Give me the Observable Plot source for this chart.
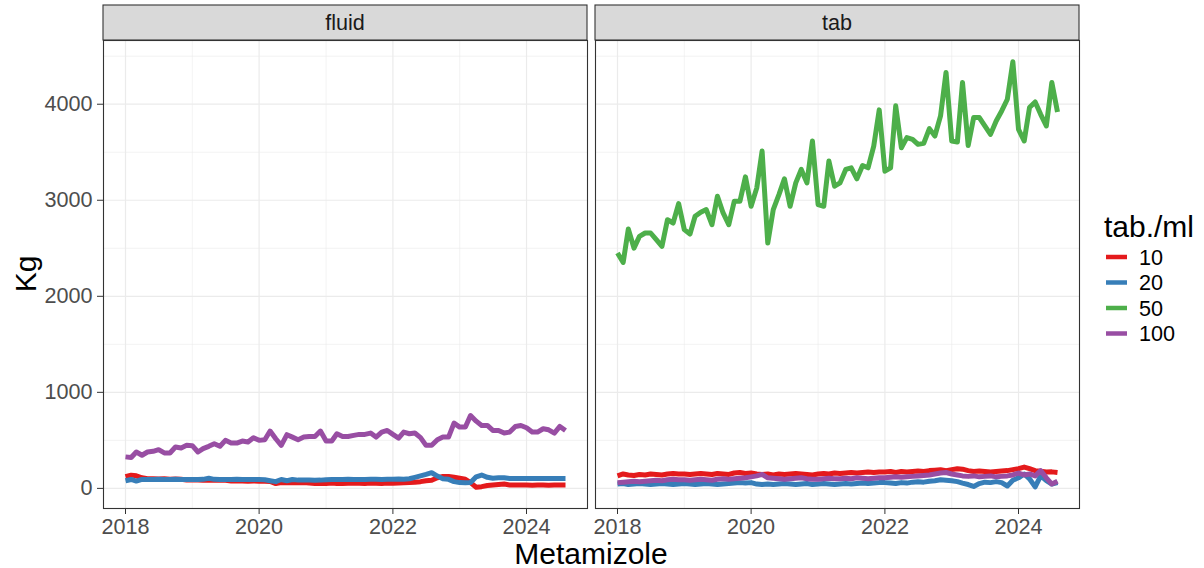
<!DOCTYPE html>
<html>
<head>
<meta charset="utf-8">
<script src="https://cdn.jsdelivr.net/npm/d3@7"></script>
<script src="https://cdn.jsdelivr.net/npm/@observablehq/plot@0.6"></script>
<style>
  html, body { margin: 0; padding: 0; background: #ffffff; }
  body { font-family: "Liberation Sans", Arial, sans-serif; }
</style>
</head>
<body>
<div id="chart"></div>
<script>
// ---------- data ----------
const panels = ["fluid", "tab"];
const seriesNames = ["10", "20", "50", "100"];
const seriesColors = ["#E41A1C", "#377EB8", "#4DAF4A", "#984EA3"];
const firstMonth = "2018-01-01";
const lastMonth = "2024-08-01";
const xTickYears = [2018, 2020, 2022, 2024];
const xMinorYears = [2019, 2021, 2023];
const yTicks = [0, 1000, 2000, 3000, 4000];
const yMinorTicks = [500, 1500, 2500, 3500, 4500];
const xTitle = "Metamizole";
const yTitle = "Kg";
const legendTitle = "tab./ml";

const fluid10 = [121,138,131,110,100,100,98,100,96,98,95,88,
  86,86,84,86,85,86,84,78,76,76,74,76,
  75,74,72,50,60,58,62,58,60,55,52,54,
  52,55,52,50,53,55,54,52,55,53,52,56,
  54,55,58,62,65,70,80,85,110,125,125,115,
  105,95,60,12,18,30,35,40,45,36,35,34,
  34,33,34,34,33,34,34,34];
const fluid20 = [79,93,76,93,93,92,94,93,93,94,92,93,
  93,92,94,105,94,93,92,93,94,93,92,93,
  92,90,80,70,93,80,92,86,88,86,85,86,
  90,92,93,92,94,93,92,93,94,95,93,94,
  95,97,95,100,115,130,145,163,128,100,94,70,
  60,58,60,120,139,115,105,110,110,104,104,104,
  104,104,104,104,104,104,104,104];
const fluid100 = [328,321,379,345,379,386,403,369,369,431,421,448,
  445,379,414,438,465,438,500,472,472,493,483,528,
  500,507,597,517,448,559,534,507,534,541,541,597,
  493,493,569,541,541,552,562,562,576,534,586,603,
  562,524,586,569,576,528,448,448,507,534,534,679,
  638,638,759,700,655,655,603,603,576,586,645,655,
  631,586,586,621,610,576,645,603];

const tab10 = [130,150,140,135,145,140,150,145,140,150,155,150,
  150,145,150,155,150,145,155,150,145,160,165,155,
  160,150,145,150,140,150,145,150,155,150,145,140,
  150,155,150,160,155,160,165,160,165,170,165,170,
  170,175,165,175,170,175,180,175,185,190,195,185,
  195,205,200,185,175,180,175,170,175,180,185,195,
  205,222,205,185,178,170,172,165];
const tab20 = [45,50,40,45,50,45,40,45,50,45,40,45,
  50,45,40,45,50,45,40,45,50,55,60,55,
  60,45,40,45,40,45,50,45,40,45,50,40,
  45,50,45,40,45,50,45,50,55,50,55,60,
  60,55,50,60,55,65,70,65,75,80,90,85,
  80,70,55,40,20,50,65,60,70,60,25,85,
  110,150,100,15,130,80,45,60];
const tab50 = [2450,2352,2700,2502,2624,2659,2659,2589,2520,2798,2763,2965,
  2694,2648,2833,2875,2903,2746,3042,2868,2746,2990,2990,3244,
  2937,3129,3512,2554,2903,3059,3223,2937,3181,3321,3181,3617,
  2955,2937,3408,3146,3181,3321,3338,3223,3362,3338,3564,3941,
  3303,3338,3983,3547,3652,3634,3582,3592,3746,3669,3878,4331,
  3617,3606,4226,3571,3861,3861,3774,3686,3826,3930,4052,4442,
  3739,3617,3965,4024,3895,3774,4226,3920];
const tab100 = [60,65,70,75,70,75,80,85,80,90,95,90,
  90,85,90,95,90,85,95,100,95,100,105,110,
  120,130,145,110,105,100,95,100,105,110,100,95,
  95,100,105,100,100,105,100,110,105,100,105,110,
  110,115,120,115,120,125,130,135,140,150,160,165,
  150,140,130,125,130,120,125,130,120,125,130,140,
  160,140,150,130,185,110,45,75];

// ---------- build long table ----------
const months = d3.utcMonth.range(new Date(firstMonth), d3.utcMonth.offset(new Date(lastMonth), 1));
const seriesTable = [
  {panel: "fluid", series: "10", values: fluid10},
  {panel: "fluid", series: "20", values: fluid20},
  {panel: "fluid", series: "100", values: fluid100},
  {panel: "tab", series: "10", values: tab10},
  {panel: "tab", series: "20", values: tab20},
  {panel: "tab", series: "50", values: tab50},
  {panel: "tab", series: "100", values: tab100}
];
const rows = [];
for (const s of seriesTable) {
  s.values.forEach((v, i) => rows.push({panel: s.panel, series: s.series, date: months[i], kg: v}));
}

// ggplot-like 5% expansion
const xExt = d3.extent(rows, d => +d.date);
const xPad = (xExt[1] - xExt[0]) * 0.05;
const yExt = d3.extent(rows, d => d.kg);
const yPad = (yExt[1] - yExt[0]) * 0.05;

const yearDate = y => new Date(Date.UTC(y, 0, 1));
const gridColor = "#EBEBEB";
const textGrey = "#4D4D4D";
const fontFamily = "'Liberation Sans', Arial, sans-serif";

const chart = Plot.plot({
  width: 1204,
  height: 568,
  marginLeft: 103,
  marginRight: 124,
  marginTop: 40,
  marginBottom: 60,
  style: {fontFamily, background: "#ffffff", overflow: "visible"},
  fx: {domain: panels, paddingInner: 8 / 493, paddingOuter: 0, axis: null, label: null},
  x: {type: "utc", domain: [new Date(xExt[0] - xPad), new Date(xExt[1] + xPad)], label: null},
  y: {domain: [yExt[0] - yPad, yExt[1] + yPad], label: null},
  color: {domain: seriesNames, range: seriesColors},
  marks: [
    Plot.gridX(xMinorYears.map(yearDate), {stroke: gridColor, strokeOpacity: 1, strokeWidth: 0.6}),
    Plot.gridY(yMinorTicks, {stroke: gridColor, strokeOpacity: 1, strokeWidth: 0.6}),
    Plot.gridX(xTickYears.map(yearDate), {stroke: gridColor, strokeOpacity: 1, strokeWidth: 1.2}),
    Plot.gridY(yTicks, {stroke: gridColor, strokeOpacity: 1, strokeWidth: 1.2}),
    Plot.line(rows, {
      x: "date", y: "kg", z: "series", stroke: "series", fx: "panel",
      strokeWidth: 5, strokeLinejoin: "round", strokeLinecap: "butt"
    }),
    Plot.frame({stroke: "#333333", strokeWidth: 1.1}),
    Plot.axisY(yTicks, {
      anchor: "left", tickSize: 6, tickPadding: 5, fontSize: 21.6,
      tickFormat: d => String(d),
      color: textGrey, stroke: "#333333", label: null
    }),
    Plot.axisX(xTickYears.map(yearDate), {
      anchor: "bottom", tickSize: 6, tickPadding: 4, fontSize: 21.6,
      tickFormat: d3.utcFormat("%Y"), color: textGrey, stroke: "#333333", label: null
    })
  ]
});

document.getElementById("chart").appendChild(chart);

// ---------- strips, titles, legend ----------
const svg = d3.select(chart);
const fxScale = chart.scale("fx");
const yScale = chart.scale("y");
const stripTop = 5, stripBottom = 40;
for (const p of panels) {
  const left = fxScale.apply(p);
  const bw = fxScale.bandwidth;
  svg.append("rect")
    .attr("x", left).attr("y", stripTop)
    .attr("width", bw).attr("height", stripBottom - stripTop)
    .attr("fill", "#D9D9D9").attr("stroke", "#333333").attr("stroke-width", 1.1);
  svg.append("text")
    .attr("x", left + bw / 2).attr("y", (stripTop + stripBottom) / 2)
    .attr("dy", "0.35em").attr("text-anchor", "middle")
    .attr("font-size", 21.6).attr("fill", "#1A1A1A")
    .attr("font-family", fontFamily)
    .text(p);
}
const panelsLeft = fxScale.apply(panels[0]);
const panelsRight = fxScale.apply(panels[panels.length - 1]) + fxScale.bandwidth;
const yMid = (yScale.apply(yScale.domain[0]) + yScale.apply(yScale.domain[1])) / 2;

svg.append("text")
  .attr("transform", `translate(25,${yMid}) rotate(-90)`)
  .attr("dy", "0.35em").attr("text-anchor", "middle")
  .attr("font-size", 30).attr("fill", "#000000").attr("font-family", fontFamily)
  .text(yTitle);
svg.append("text")
  .attr("x", (panelsLeft + panelsRight) / 2).attr("y", 553)
  .attr("dy", "0.35em").attr("text-anchor", "middle")
  .attr("font-size", 30).attr("fill", "#000000").attr("font-family", fontFamily)
  .text(xTitle);

const legendX = 1104;
svg.append("text")
  .attr("x", legendX).attr("y", 226).attr("dy", "0.35em")
  .attr("text-anchor", "start")
  .attr("font-size", 30).attr("fill", "#000000").attr("font-family", fontFamily)
  .text(legendTitle);
seriesNames.forEach((name, i) => {
  const cy = 257 + i * 25.5;
  svg.append("line")
    .attr("x1", legendX + 2).attr("x2", legendX + 23)
    .attr("y1", cy).attr("y2", cy)
    .attr("stroke", seriesColors[i]).attr("stroke-width", 4.5);
  svg.append("text")
    .attr("x", legendX + 35).attr("y", cy).attr("dy", "0.35em")
    .attr("text-anchor", "start")
    .attr("font-size", 21.6).attr("fill", "#000000").attr("font-family", fontFamily)
    .text(name);
});
</script>
</body>
</html>
